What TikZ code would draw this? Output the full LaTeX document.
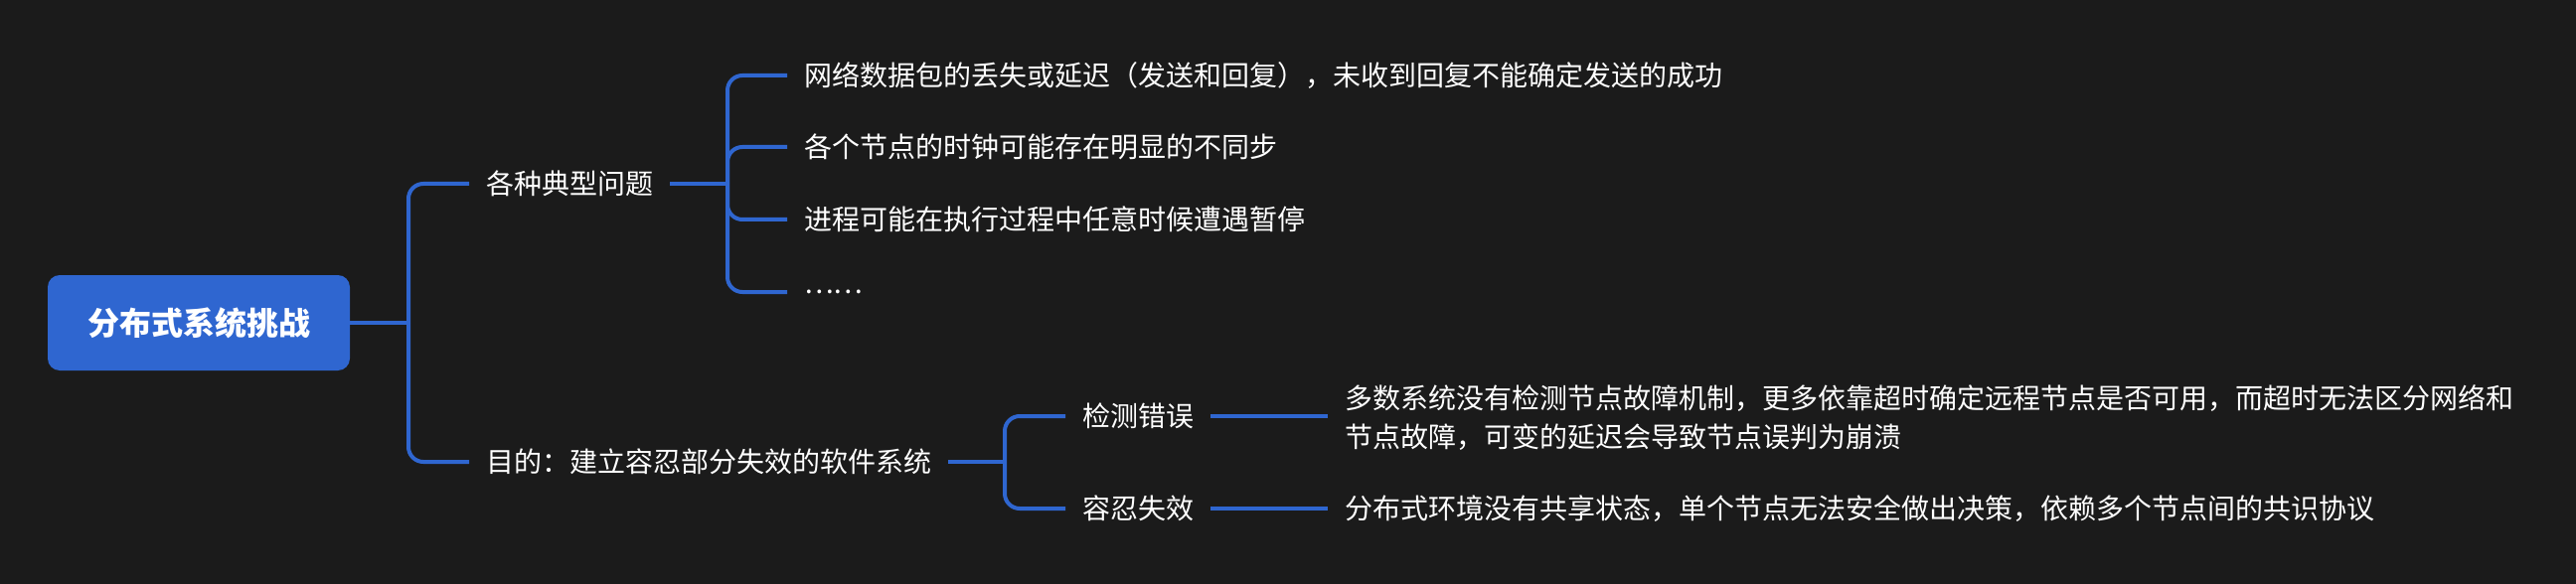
\documentclass[tikz,border=0pt]{standalone}
\usepackage{fontspec}
\setmainfont{Noto Sans CJK SC}
\usetikzlibrary{calc}
\definecolor{bgc}{HTML}{1B1B1B}
\definecolor{bluec}{HTML}{2F66D0}
\begin{document}
\begin{tikzpicture}[x=1pt,y=-1pt,
  conn/.style={draw=bluec,line width=4pt},
  elbow/.style={conn,rounded corners=15pt},
  rootbox/.style={fill=bluec,rounded corners=12pt,minimum width=304pt,minimum height=96pt,inner sep=0pt,text=white,font=\fontsize{32pt}{38pt}\selectfont\bfseries},
  topic/.style={anchor=west,inner xsep=17pt,inner ysep=0pt,text=white,font=\fontsize{28pt}{39pt}\selectfont,align=left}]
\fill[bgc] (0,0) rectangle (2592,588);
\useasboundingbox (0,0) rectangle (2592,588);
\node[rootbox] (root) at (200,325) {分布式系统挑战};
\coordinate (trunk) at (411,325);
\node[topic] (t1) at (472,185) {各种典型问题};
\node[topic] (t2) at (472,465) {目的：建立容忍部分失效的软件系统};
\draw[conn] (root.east) -- (trunk);
\draw[elbow] (trunk) |- (t1.west);
\draw[elbow] (trunk) |- (t2.west);
% sub 1
\coordinate (s1) at (732,185);
\node[topic] (a1) at (792,76) {网络数据包的丢失或延迟（发送和回复），未收到回复不能确定发送的成功};
\node[topic] (a2) at (792,148) {各个节点的时钟可能存在明显的不同步};
\node[topic] (a3) at (792,221) {进程可能在执行过程中任意时候遭遇暂停};
\node[topic] (a4) at (792,294) {……};
\draw[conn] (t1.east) -- (s1);
\draw[elbow] (s1) |- (a1.west);
\draw[elbow] (s1) |- (a2.west);
\draw[elbow] (s1) |- (a3.west);
\draw[elbow] (s1) |- (a4.west);
% sub 2
\coordinate (s2) at (1011,465);
\node[topic] (b1) at (1072,419) {检测错误};
\node[topic] (b2) at (1072,512) {容忍失效};
\draw[conn] (t2.east) -- (s2);
\draw[elbow] (s2) |- (b1.west);
\draw[elbow] (s2) |- (b2.west);
\node[topic] (c1) at (1336,421) {多数系统没有检测节点故障机制，更多依靠超时确定远程节点是否可用，而超时无法区分网络和\\节点故障，可变的延迟会导致节点误判为崩溃};
\node[topic] (c2) at (1336,512) {分布式环境没有共享状态，单个节点无法安全做出决策，依赖多个节点间的共识协议};
\draw[conn] (b1.east) -- (c1.west |- b1.east);
\draw[conn] (b2.east) -- (c2.west);
\end{tikzpicture}
\end{document}
